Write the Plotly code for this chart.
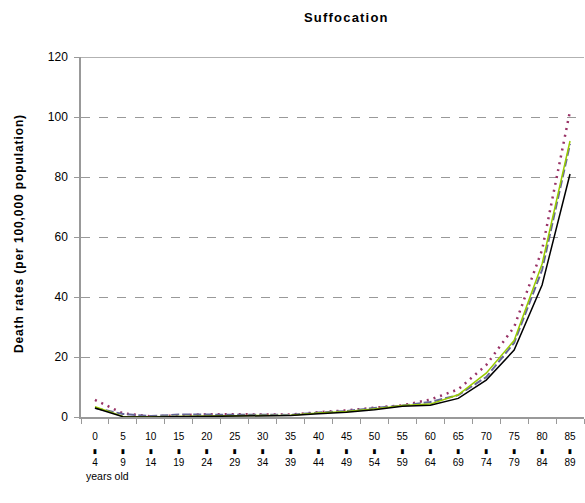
import plotly.graph_objects as go

ages = ["0-4", "5-9", "10-14", "15-19", "20-24", "25-29", "30-34", "35-39", "40-44",
        "45-49", "50-54", "55-59", "60-64", "65-69", "70-74", "75-79", "80-84", "85-89"]
tick_text = [a.split("-")[0] + "<br><span style='font-size:4px;color:#000000'>█</span><br>" + a.split("-")[1]
             for a in ages]

series_black = [3.0, 0.1, 0.0, 0.1, 0.3, 0.4, 0.4, 0.5, 1.1, 1.6, 2.4, 3.6, 3.9, 6.2, 12.3, 22.3, 44.0, 81.0]
series_green = [3.4, 0.2, 0.1, 0.2, 0.4, 0.5, 0.5, 0.6, 1.3, 1.8, 2.7, 3.8, 4.3, 7.4, 14.6, 25.5, 51.0, 92.0]
series_blue = [3.0, 1.0, 0.3, 0.8, 0.8, 0.8, 0.7, 0.7, 1.5, 2.0, 3.0, 3.8, 5.0, 7.3, 13.3, 24.7, 49.0, 91.0]
series_maroon = [5.7, 1.2, 0.2, 0.6, 0.9, 0.9, 0.8, 0.8, 1.6, 2.2, 3.1, 3.9, 5.8, 9.2, 17.3, 30.0, 55.7, 102.0]

fig = go.Figure()
fig.add_trace(go.Scatter(x=tick_text, y=series_maroon, mode="lines",
                         line=dict(color="#993366", width=2.5, dash="2px,5px")))
fig.add_trace(go.Scatter(x=tick_text, y=series_blue, mode="lines",
                         line=dict(color="#666699", width=2, dash="8px,3px")))
fig.add_trace(go.Scatter(x=tick_text, y=series_green, mode="lines",
                         line=dict(color="#99cc00", width=1.5)))
fig.add_trace(go.Scatter(x=tick_text, y=series_black, mode="lines",
                         line=dict(color="#000000", width=1.5)))

fig.update_layout(
    width=585, height=503,
    margin=dict(l=81, r=1, t=57, b=86),
    paper_bgcolor="white", plot_bgcolor="white",
    showlegend=False,
    font=dict(family="Liberation Sans, Arial, sans-serif", size=11, color="#000000"),
)
fig.update_xaxes(type="category", tickson="boundaries", ticks="outside", ticklen=5,
                 tickcolor="#999999", showline=True, linecolor="#999999", linewidth=1.5,
                 showgrid=False, tickfont=dict(size=10), tickangle=0, range=[-0.5, 17.5],
                 ticklabelstandoff=9, automargin=False)
fig.update_yaxes(range=[0, 120], tickvals=[0, 20, 40, 60, 80, 100, 120], ticks="outside",
                 ticklen=5, tickcolor="#999999", showline=True, linecolor="#999999",
                 linewidth=1.5, showgrid=True, gridcolor="#999999", griddash="dash",
                 gridwidth=1, zeroline=False, tickfont=dict(size=12), ticklabelstandoff=4,
                 automargin=False)
fig.add_shape(type="line", xref="paper", yref="y", x0=0, x1=1, y0=120, y1=120,
              line=dict(color="#999999", width=1.5))
fig.add_annotation(text="<span style='letter-spacing:1.2px'><b>Suffocation</b></span>",
                   xref="paper", yref="paper", x=(347 - 81) / 504, y=1 + (57 - 18) / 360,
                   xanchor="center", yanchor="middle", showarrow=False, font=dict(size=13))
fig.add_annotation(text="<span style='letter-spacing:0.9px'><b>Death rates (per 100,000 population)</b></span>",
                   xref="paper", yref="paper", x=(19 - 81) / 504, y=(417 - 234) / 360,
                   xanchor="center", yanchor="middle", textangle=-90, showarrow=False,
                   font=dict(size=12))
fig.add_annotation(text="years old", xref="paper", yref="paper", x=0.006, y=-0.164,
                   xanchor="left", yanchor="middle", showarrow=False, font=dict(size=10.5))

fig.write_html("out.html", config={"displayModeBar": False},
               post_script="document.body.style.margin='0';")
